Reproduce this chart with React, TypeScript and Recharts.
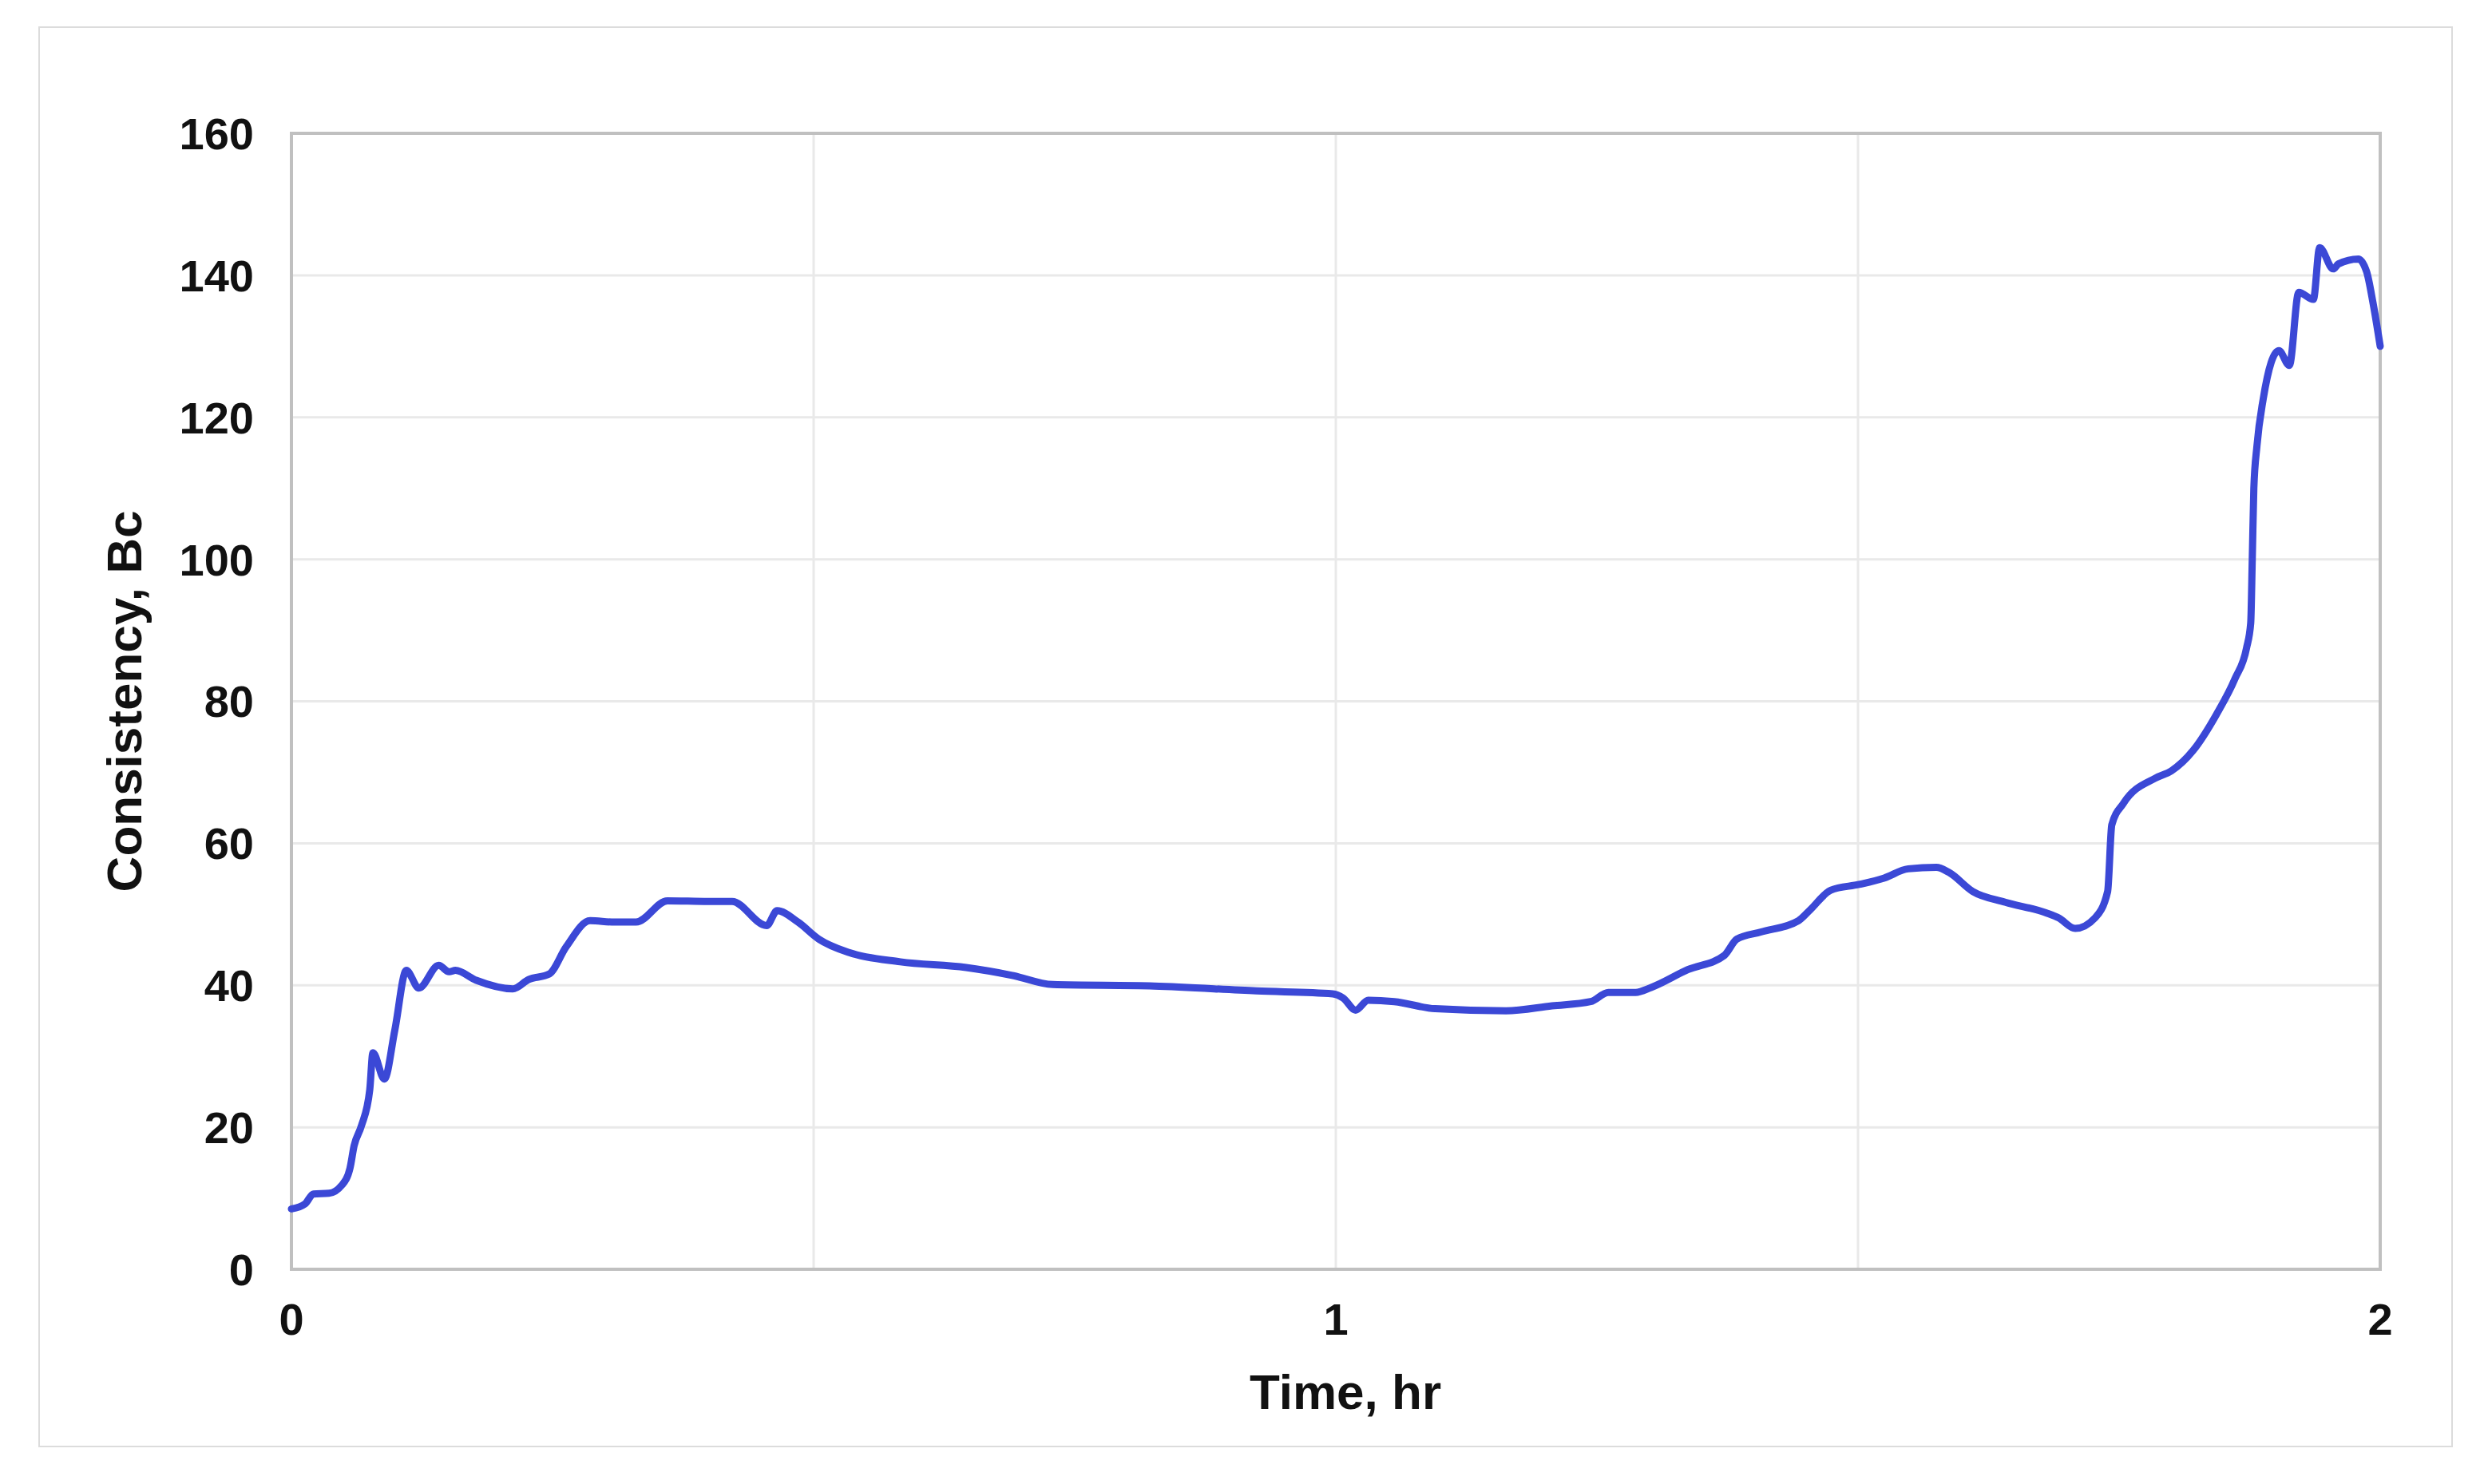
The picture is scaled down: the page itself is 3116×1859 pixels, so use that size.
import {
  LineChart,
  Line,
  XAxis,
  YAxis,
  CartesianGrid,
  ReferenceArea,
} from "recharts";

const timeHr = [
  0, 0.013, 0.021, 0.036, 0.048, 0.056, 0.06, 0.067, 0.075, 0.078,
  0.089, 0.099, 0.11, 0.122, 0.141, 0.151, 0.157, 0.177, 0.212, 0.227,
  0.247, 0.263, 0.286, 0.309, 0.33, 0.36, 0.399, 0.422, 0.455, 0.465,
  0.485, 0.505, 0.534, 0.583, 0.646, 0.69, 0.729, 0.826, 0.924, 0.997,
  1.007, 1.019, 1.031, 1.056, 1.095, 1.163, 1.207, 1.244, 1.261, 1.287,
  1.302, 1.337, 1.372, 1.384, 1.407, 1.443, 1.454, 1.474, 1.501, 1.525,
  1.548, 1.575, 1.587, 1.61, 1.641, 1.68, 1.692, 1.708, 1.727, 1.739,
  1.743, 1.754, 1.785, 1.8, 1.821, 1.843, 1.861, 1.872, 1.876, 1.8775,
  1.879, 1.882, 1.888, 1.903, 1.913, 1.922, 1.936, 1.942, 1.955, 1.96,
  1.979, 1.987, 1.993, 2.0,
];

const consistencyBc = [
  8.5, 9.2, 10.6, 10.7, 11.8, 14.2, 17.4, 20.2, 25.3, 30.5,
  26.8, 33.7, 42.1, 39.6, 42.8, 41.9, 42.1, 40.7, 39.5, 40.8,
  41.6, 45.4, 49.1, 48.9, 48.9, 51.9, 51.8, 51.8, 48.4, 50.5,
  48.9, 46.5, 44.6, 43.3, 42.5, 41.4, 40.1, 39.9, 39.2, 38.8,
  38.2, 36.5, 37.9, 37.7, 36.7, 36.4, 37.1, 37.7, 39.0, 39.0,
  39.7, 42.2, 44.2, 46.5, 47.5, 49.1, 50.6, 53.4, 54.2, 55.1,
  56.4, 56.6, 55.9, 53.2, 51.7, 50.2, 49.5, 48.0, 49.5, 53.2,
  62.6, 65.6, 69.2, 70.2, 73.1, 78.1, 83.2, 87.5, 91.0, 100.0,
  110.0, 116.0, 122.6, 129.4, 127.3, 137.6, 136.6, 143.9, 140.9, 141.6,
  142.3, 140.5, 136.2, 130.0,
];

const xTicks = [0, 0.5, 1, 1.5, 2];
const yTicks = [0, 20, 40, 60, 80, 100, 120, 140, 160];

const data = timeHr.map((t, i) => ({ t, bc: consistencyBc[i] }));

const font = "'Liberation Sans', Arial, sans-serif";
const tickStyle = { fontFamily: font, fontWeight: 700, fontSize: 56, fill: "#111" };

export default function App() {
  return (
    <div
      style={{
        position: "fixed",
        left: 0,
        top: 0,
        width: 3116,
        height: 1859,
        background: "#fff",
      }}
    >
      <div
        style={{
          position: "absolute",
          left: 48,
          top: 33,
          width: 3020,
          height: 1776,
          border: "2px solid #dcdcdc",
        }}
      />
      <div style={{ position: "absolute", left: 0, top: 0 }}>
        <LineChart
          width={3116}
          height={1859}
          data={data}
          margin={{ top: 167, right: 135, bottom: 69, left: 100 }}
        >
          <CartesianGrid stroke="#e9e9e9" strokeWidth={3} />
          <XAxis
            dataKey="t"
            type="number"
            domain={[0, 2]}
            ticks={xTicks}
            tickFormatter={(v: number) => (Number.isInteger(v) ? String(v) : "")}
            axisLine={false}
            tickLine={false}
            tickSize={0}
            tickMargin={42}
            height={200}
            tick={tickStyle}
            label={{
              value: "Time, hr",
              position: "insideBottom",
              offset: 25,
              dx: 12,
              style: { fontFamily: font, fontWeight: 700, fontSize: 62, fill: "#111" },
            }}
          />
          <YAxis
            type="number"
            domain={[0, 160]}
            ticks={yTicks}
            axisLine={false}
            tickLine={false}
            tickSize={0}
            tickMargin={47}
            width={265}
            tick={tickStyle}
            label={{
              value: "Consistency, Bc",
              angle: -90,
              position: "insideLeft",
              offset: 55,
              style: {
                textAnchor: "middle",
                fontFamily: font,
                fontWeight: 700,
                fontSize: 62,
                fill: "#111",
              },
            }}
          />
          <ReferenceArea
            x1={0}
            x2={2}
            y1={0}
            y2={160}
            fill="none"
            stroke="#c0c0c0"
            strokeWidth={4}
            ifOverflow="visible"
          />
          <Line
            type="monotone"
            dataKey="bc"
            stroke="#3b48d6"
            strokeWidth={9}
            dot={false}
            strokeLinejoin="round"
            strokeLinecap="round"
            isAnimationActive={false}
          />
        </LineChart>
      </div>
    </div>
  );
}
